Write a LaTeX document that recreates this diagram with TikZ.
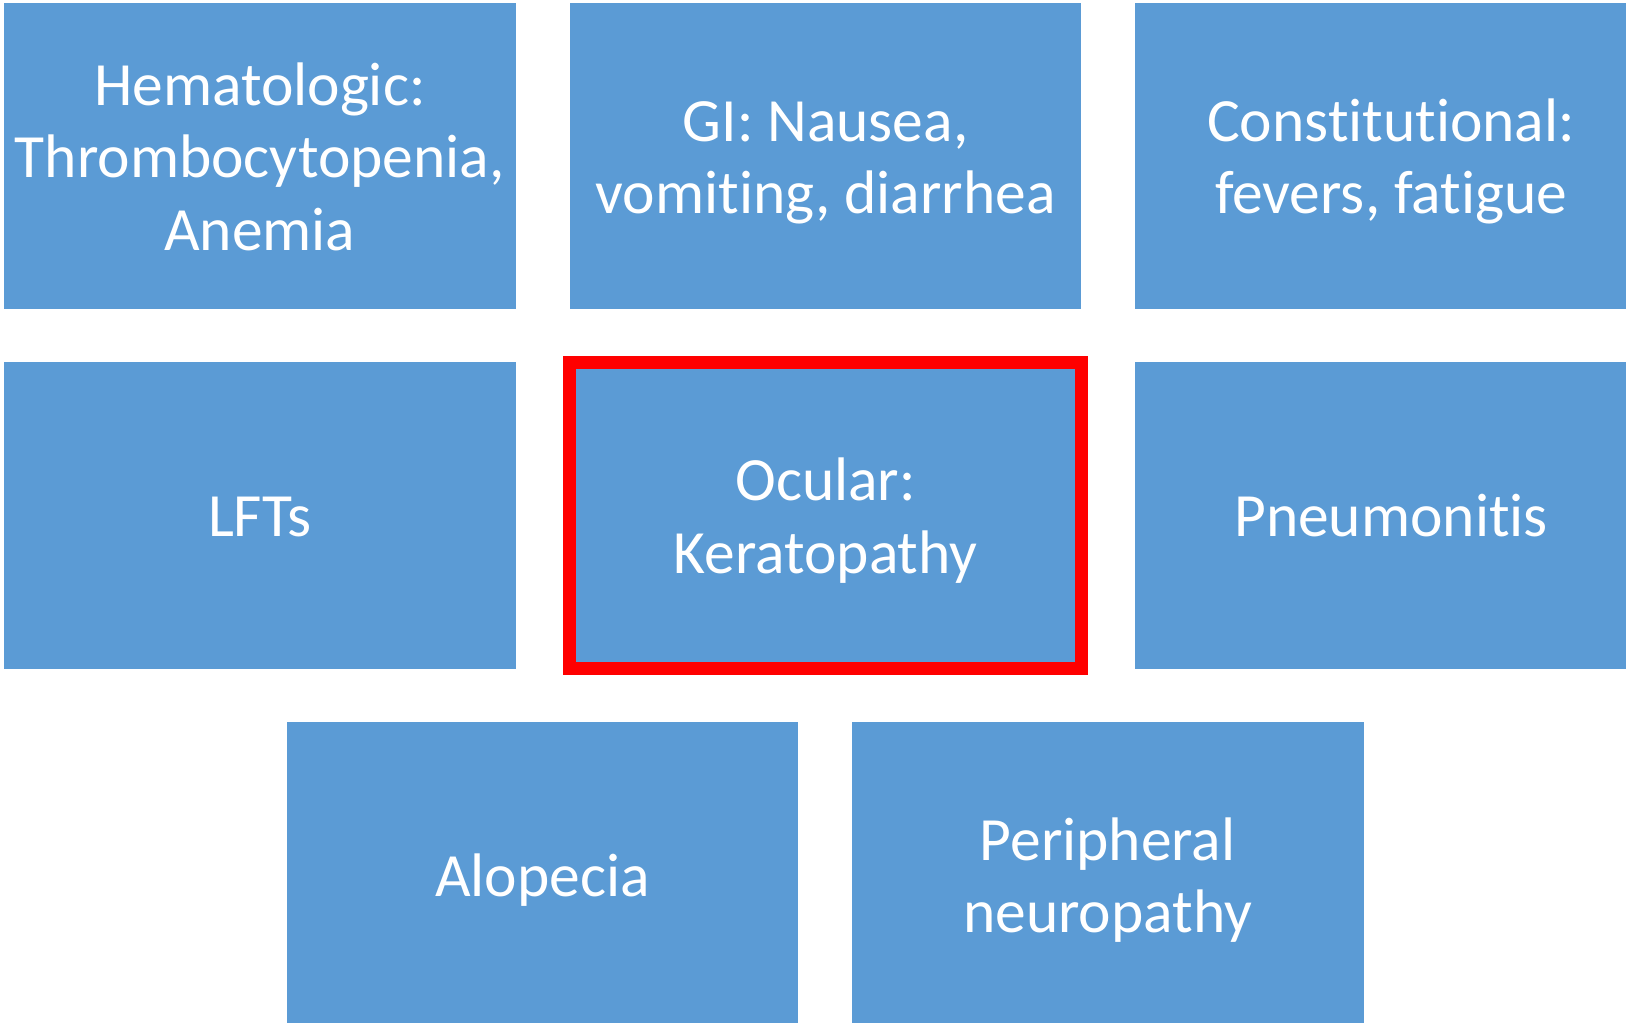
\documentclass[tikz,border=0pt]{standalone}
\usepackage{fontspec}
\setmainfont{Carlito}[Ligatures=NoCommon, RawFeature={-liga;-calt}]
\definecolor{tileblue}{HTML}{5B9BD5}
\newcommand{\tiletop}{\rule{0pt}{59.5pt}}
\tikzset{
  tile/.style  = {rectangle, fill=tileblue, text=white, minimum width=511.7pt, minimum height=306.3pt,
                  inner sep=0pt, outer sep=0pt, align=center, font=\fontsize{61.5}{72.5}\selectfont,
                  execute at end node={\rule[-16.75pt]{0pt}{16.75pt}}},
  focus/.style = {draw=red, line width=12.5pt}
}
\begin{document}
\begin{tikzpicture}[x=1pt, y=-1pt]
  \useasboundingbox (0,0) rectangle (1626,1023);
  \clip (0,0) rectangle (1626,1023);

  % top row (3)
  \node[tile] (hema)  at (259.85,156.15)  {\tiletop Hematologic:\\Thrombocytopenia,\\Anemia};
  \node[tile] (gi)    at (825.55,156.15)  {\tiletop GI: Nausea,\\vomiting, diarrhea};
  \node[tile] (const) at (1391.15,156.15) {\tiletop Constitutional:\\fevers, fatigue};

  % middle row (3)
  \node[tile] (lft)    at (259.85,515.5)  {\tiletop LFTs};
  \node[tile,focus] (ocular) at (825.55,515.5) {\tiletop Ocular:\\Keratopathy};
  \node[tile] (pneu)   at (1391.15,515.5) {\tiletop Pneumonitis};

  % bottom row (2)
  \node[tile] (alop)  at (542.5,875)   {\tiletop Alopecia};
  \node[tile] (neuro) at (1107.65,875) {\tiletop Peripheral\\neuropathy};
\end{tikzpicture}
\end{document}
